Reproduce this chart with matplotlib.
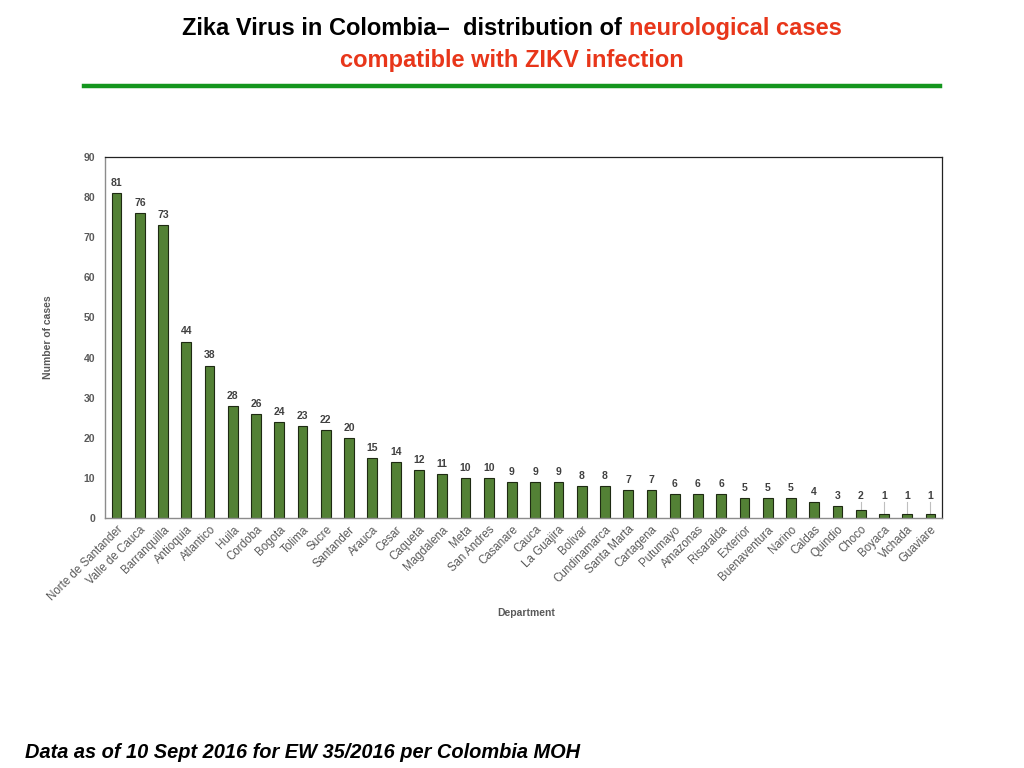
import matplotlib
matplotlib.use("Agg")
import matplotlib.pyplot as plt
from matplotlib.lines import Line2D
import numpy as np

departments = [
    "Norte de Santander", "Valle de Cauca", "Barranquilla", "Antioquia", "Atlantico",
    "Huila", "Cordoba", "Bogota", "Tolima", "Sucre", "Santander", "Arauca", "Cesar",
    "Caqueta", "Magdalena", "Meta", "San Andres", "Casanare", "Cauca", "La Guajira",
    "Bolivar", "Cundinamarca", "Santa Marta", "Cartagena", "Putumayo", "Amazonas",
    "Risaralda", "Exterior", "Buenaventura", "Narino", "Caldas", "Quindio", "Choco",
    "Boyaca", "Vichada", "Guaviare",
]
cases = [81, 76, 73, 44, 38, 28, 26, 24, 23, 22, 20, 15, 14, 12, 11, 10, 10, 9, 9, 9,
         8, 8, 7, 7, 6, 6, 6, 5, 5, 5, 4, 3, 2, 1, 1, 1]
y_ticks = list(range(0, 91, 10))

GREY = "#595959"
BAR = "#538135"
plt.rcParams["font.family"] = ["Liberation Sans", "DejaVu Sans"]

fig = plt.figure(figsize=(10.24, 7.68), dpi=100)
ax = fig.add_axes([0.1025, 0.3255, 0.8175, 0.470])

x = np.arange(len(cases))
ax.bar(x, cases, width=0.42, color=BAR, edgecolor="#1e2a12", linewidth=0.8, zorder=2)

# data labels; the smallest ones are lifted with a short leader line
for xi, v in zip(x, cases):
    ly = max(v + 1.3, 4.3)
    ax.text(xi, ly, str(v), ha="center", va="bottom", fontsize=7.5,
            fontweight="bold", color="#404040")
    if ly - v > 2.0:
        ax.plot([xi, xi], [v, ly - 0.2], color="#bfbfbf", lw=0.8, zorder=1)

ax.set_xlim(-0.5, len(cases) - 0.5)
ax.set_ylim(0, 90)
ax.set_yticks(y_ticks)
ax.set_xticks(x)
ax.set_xticklabels(departments, rotation=45, ha="right", rotation_mode="anchor",
                   fontsize=8.3, color=GREY)
for lbl in ax.get_yticklabels():
    lbl.set_fontsize(7.5)
    lbl.set_fontweight("bold")
    lbl.set_color(GREY)
ax.tick_params(axis="both", length=0, pad=7)
ax.tick_params(axis="x", pad=4)

for side in ["top", "right"]:
    ax.spines[side].set_color("#222222")
    ax.spines[side].set_linewidth(0.9)
for side in ["left", "bottom"]:
    ax.spines[side].set_color("#8c8c8c")
    ax.spines[side].set_linewidth(1.0)

ax.set_ylabel("Number of cases", fontsize=7.5, fontweight="bold", color=GREY, labelpad=22)
fig.text(0.514, 0.202, "Department", ha="center", va="center", fontsize=7.5,
         fontweight="bold", color=GREY)

# title with two colours on the first line
title_font = dict(fontsize=17, fontweight="bold",
                  family=["Liberation Sans Narrow", "Liberation Sans", "DejaVu Sans"])
t1 = fig.text(0, 0.963, "Zika Virus in Colombia\u2013  distribution of ", color="black",
              va="center", ha="left", **title_font)
t2 = fig.text(0, 0.963, "neurological cases", color="#e8361a", va="center", ha="left",
              **title_font)
fig.canvas.draw()
r = fig.canvas.get_renderer()
w1 = t1.get_window_extent(r).width / fig.bbox.width
w2 = t2.get_window_extent(r).width / fig.bbox.width
x0 = 0.5 - (w1 + w2) / 2
t1.set_x(x0)
t2.set_x(x0 + w1)
fig.text(0.5, 0.921, "compatible with ZIKV infection", color="#e8361a", va="center",
         ha="center", **title_font)

fig.add_artist(Line2D([0.082, 0.918], [0.888, 0.888], transform=fig.transFigure,
                      color="#14961e", linewidth=3.2))

fig.text(0.024, 0.02, "Data as of 10 Sept 2016 for EW 35/2016 per Colombia MOH",
         fontsize=14.4, fontweight="bold", fontstyle="italic", color="black",
         ha="left", va="center")

fig.savefig("out.png", dpi=100)
